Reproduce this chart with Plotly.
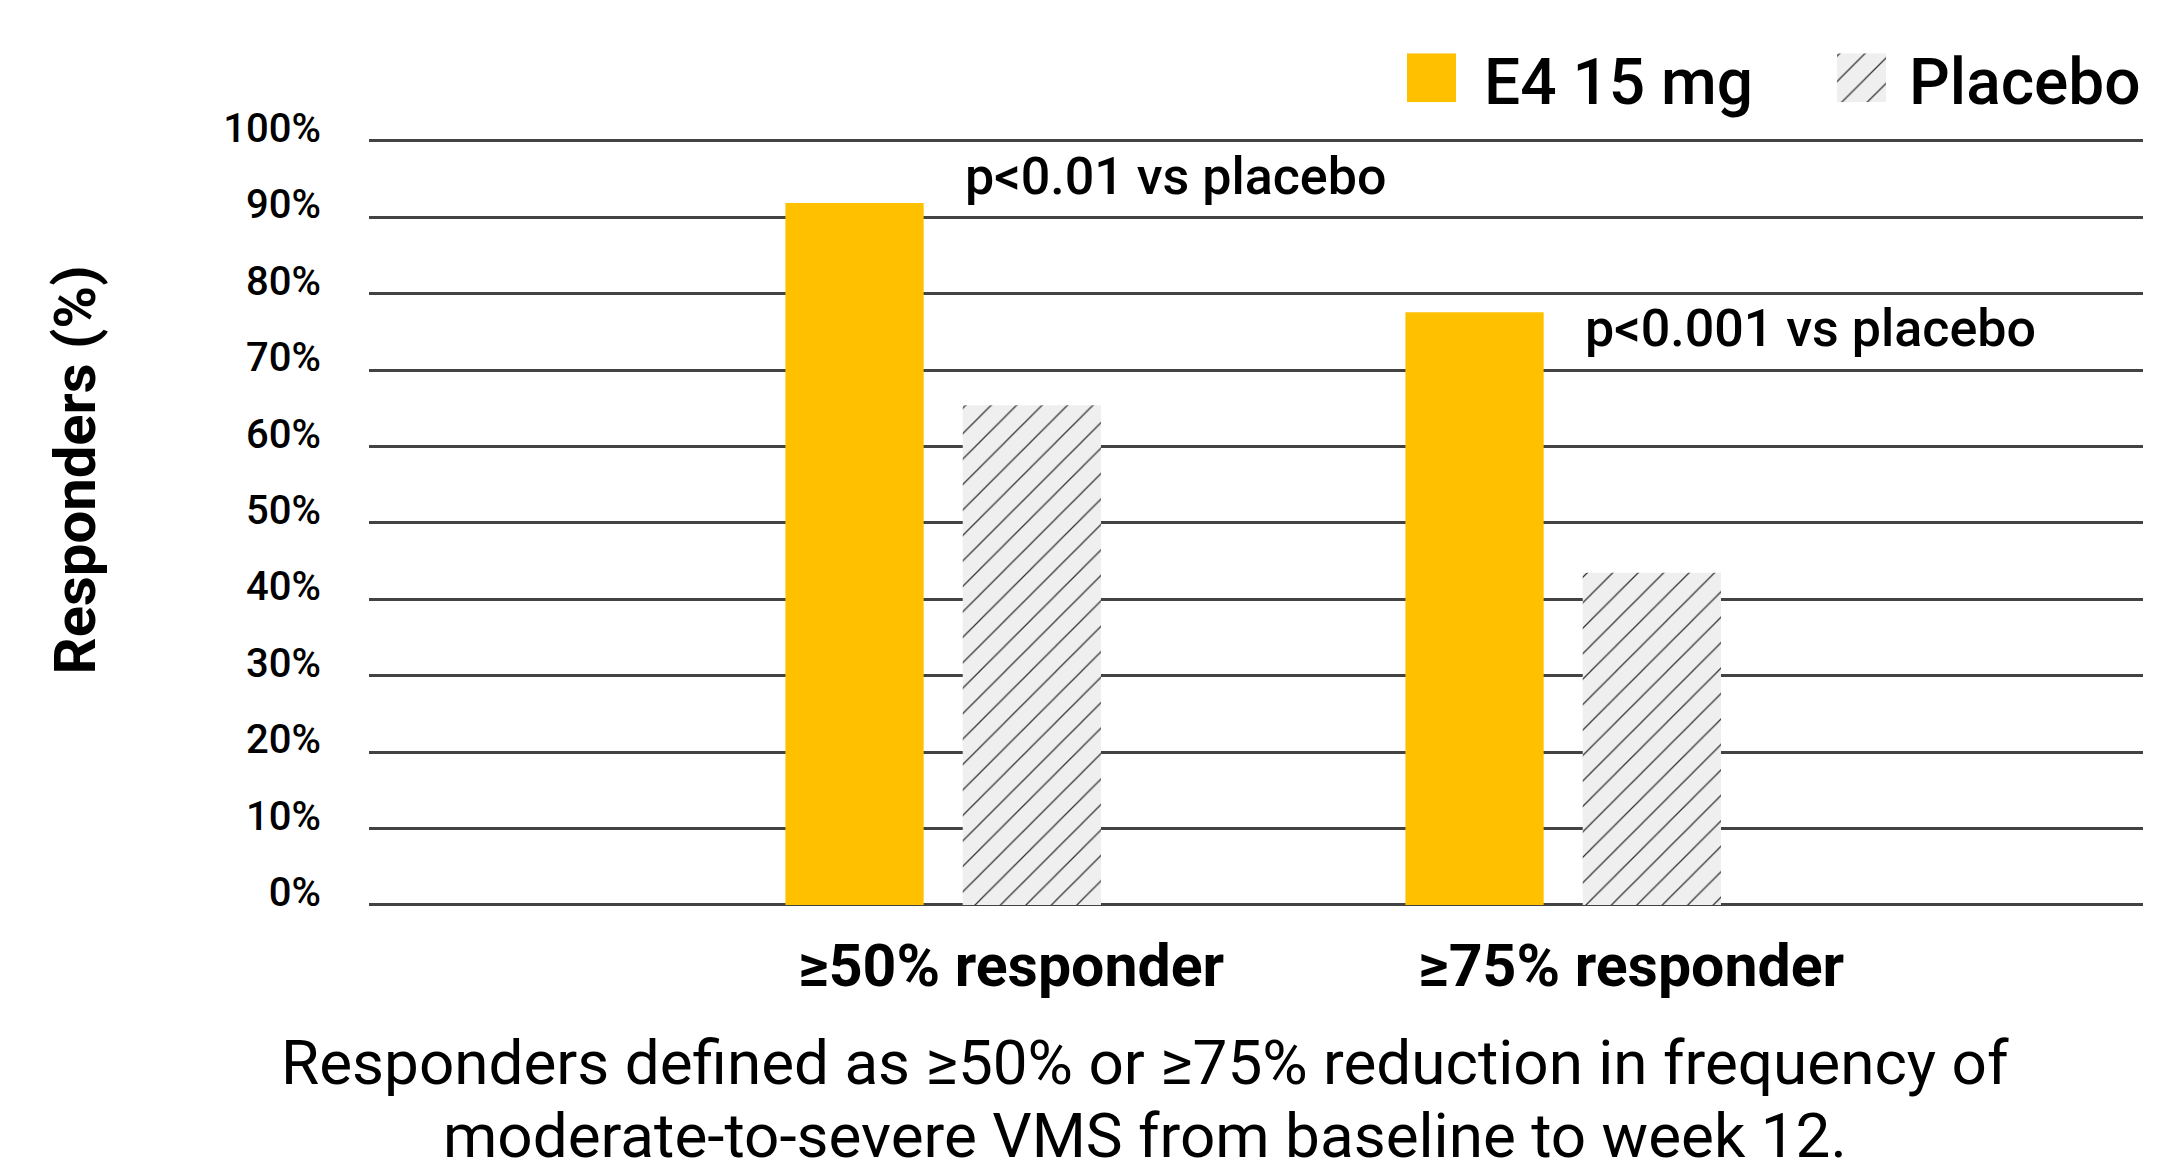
import plotly.graph_objects as go

# ---- data ----
categories = ["≥50% responder", "≥75% responder"]
series_names = ["E4 15 mg", "Placebo"]
e4_values = [91.9, 77.6]
placebo_values = [65.4, 43.5]
p_labels = ["p<0.01 vs placebo", "p<0.001 vs placebo"]
y_tick_values = [0, 10, 20, 30, 40, 50, 60, 70, 80, 90, 100]
y_tick_labels = ["0%", "10%", "20%", "30%", "40%", "50%",
                 "60%", "70%", "80%", "90%", "100%"]
caption_lines = [
    "Responders defined as ≥50% or ≥75% reduction in frequency of",
    "moderate-to-severe VMS from baseline to week 12.",
]

# ---- styling ----
W, H = 2175, 1172
FONT = "Roboto"
GOLD = "#FFC000"
HATCH_BG = "#EFEFEF"
HATCH_FG = "#333333"
GRID = "#434343"

M_L, M_R, M_T, M_B = 369, 32, 20, 267
PW = W - M_L - M_R
PH = H - M_T - M_B

Y_MAX = 100.6                      # a little headroom so the 100% line shows
PX_PER_UNIT = 7.64                 # vertical pixels per percentage point
plot_top_px = 905 - Y_MAX * PX_PER_UNIT


def px_x(px):
    return (px - M_L) / PW


def px_y(py):
    return 1 - (py - M_T) / PH


BAR_W = 0.223
E4_OFF = -0.143 - BAR_W / 2
PL_OFF = 0.143 - BAR_W / 2

hatch = dict(shape="/", size=18, solidity=0.07, fgcolor=HATCH_FG,
             bgcolor=HATCH_BG, fillmode="replace")

fig = go.Figure()

fig.add_trace(go.Bar(
    x=categories, y=e4_values, name=series_names[0],
    width=BAR_W, offset=E4_OFF,
    marker=dict(color=GOLD, line=dict(width=0)),
    showlegend=False, hoverinfo="skip",
))
fig.add_trace(go.Bar(
    x=categories, y=placebo_values, name=series_names[1],
    width=BAR_W, offset=PL_OFF,
    marker=dict(color=HATCH_BG, line=dict(width=0), pattern=hatch),
    showlegend=False, hoverinfo="skip",
))

# legend keys drawn as bars on a small auxiliary axis pair
key_x = [24.5, 454.5]
fig.add_trace(go.Bar(
    x=[key_x[0]], y=[1], width=49, xaxis="x2", yaxis="y2",
    marker=dict(color=GOLD, line=dict(width=0)),
    showlegend=False, hoverinfo="skip",
))
fig.add_trace(go.Bar(
    x=[key_x[1]], y=[1], width=49, xaxis="x2", yaxis="y2",
    marker=dict(color=HATCH_BG, line=dict(width=0), pattern=hatch),
    showlegend=False, hoverinfo="skip",
))

annotations = []

# significance labels, left-aligned on the placebo bar of each group
p_label_y = [95.4, 75.5]
for i, txt in enumerate(p_labels):
    annotations.append(dict(
        x=i + PL_OFF, y=p_label_y[i], xref="x", yref="y",
        xanchor="left", yanchor="middle", text=txt, showarrow=False,
        font=dict(family=FONT, size=52, color="black", weight=500),
    ))

# legend labels
legend_text_px = [1482, 1907]
for name, lx in zip(series_names, legend_text_px):
    annotations.append(dict(
        x=px_x(lx), y=px_y(82), xref="paper", yref="paper",
        xanchor="left", yanchor="middle", text=name, showarrow=False,
        font=dict(family=FONT, size=64, color="black", weight=500),
    ))

# y-axis title
annotations.append(dict(
    x=px_x(74.5), y=px_y(470), xref="paper", yref="paper",
    xanchor="center", yanchor="middle", text="Responders (%)",
    textangle=-90, showarrow=False,
    font=dict(family=FONT, size=58, color="black", weight=700),
))

# caption under the chart
caption_y_px = [1062.5, 1135.5]
for line, cy in zip(caption_lines, caption_y_px):
    annotations.append(dict(
        x=px_x(1144.5), y=px_y(cy), xref="paper", yref="paper",
        xanchor="center", yanchor="middle", borderpad=0,
        text=line, showarrow=False,
        font=dict(family=FONT, size=62, color="black", weight=400),
    ))

fig.update_layout(
    width=W, height=H,
    margin=dict(l=M_L, r=M_R, t=M_T, b=M_B, pad=0, autoexpand=False),
    paper_bgcolor="white", plot_bgcolor="white",
    barmode="overlay",
    font=dict(family=FONT, color="black"),
    annotations=annotations,
    xaxis=dict(
        domain=[0, 1],
        type="category", automargin=False,
        range=[(M_L - 943.2) / 620, (W - M_R - 943.2) / 620],
        showgrid=False, zeroline=False, showline=False,
        ticks="", ticklabelstandoff=21, ticklabelshift=68,
        tickfont=dict(family=FONT, size=59, color="black", weight=700),
        fixedrange=True,
    ),
    yaxis=dict(
        domain=[0, px_y(plot_top_px)], automargin=False,
        range=[0, Y_MAX],
        tickmode="array", tickvals=y_tick_values, ticktext=y_tick_labels,
        showgrid=True, gridcolor=GRID, gridwidth=3,
        zeroline=True, zerolinecolor=GRID, zerolinewidth=3,
        showline=False, ticks="",
        ticklabelstandoff=47, ticklabelshift=-13,
        tickfont=dict(family=FONT, size=40, color="black", weight=500),
        fixedrange=True,
    ),
    xaxis2=dict(
        domain=[px_x(1407), px_x(1886)], range=[0, 479], automargin=False,
        anchor="y2", visible=False, fixedrange=True,
    ),
    yaxis2=dict(
        domain=[px_y(102.3), px_y(53.3)], range=[0, 1], automargin=False,
        anchor="x2", visible=False, fixedrange=True,
    ),
)

fig.write_html("out.html", config={"displayModeBar": False})
